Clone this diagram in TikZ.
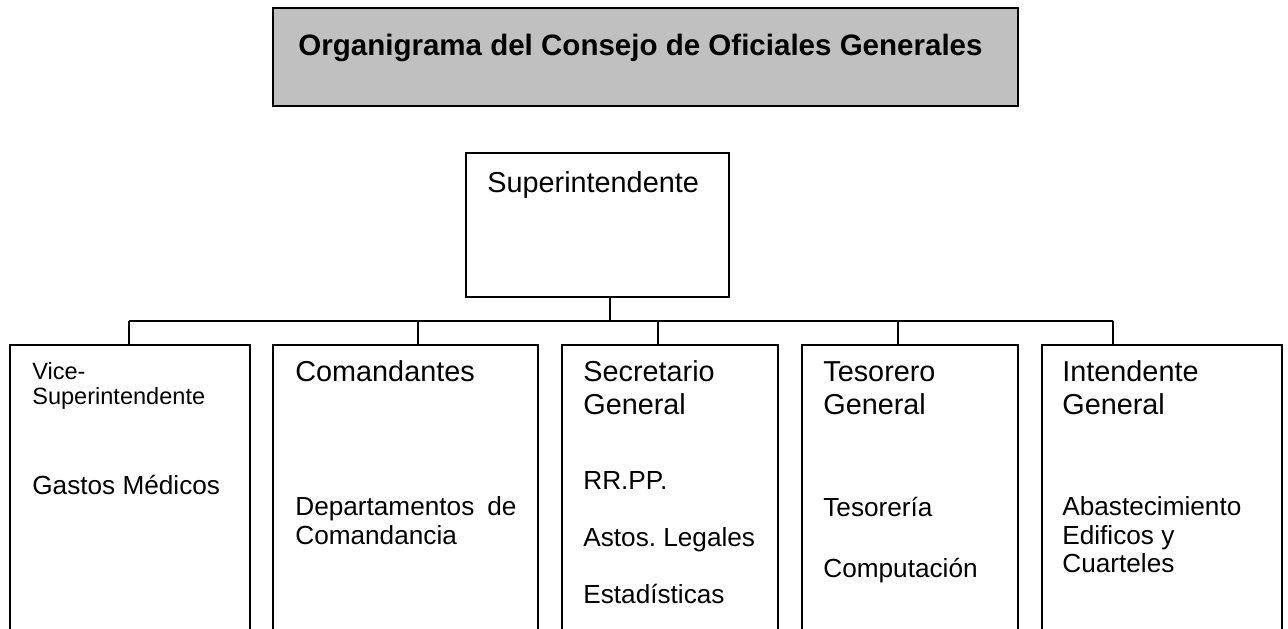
\documentclass[tikz,border=0pt]{standalone}
\usepackage{fontspec}
\setmainfont{Liberation Sans}
\usepackage{xcolor}
\usetikzlibrary{positioning, calc}
\definecolor{titlegray}{RGB}{192,192,192}
\frenchspacing

\begin{document}
\begin{tikzpicture}[
    box/.style={draw, line width=0.9pt, outer sep=0pt, inner sep=0pt, anchor=north west},
    head/.style={anchor=base west, inner sep=0pt, font=\fontsize{16.4}{19}\selectfont},
    sub/.style={anchor=base west, inner sep=0pt, font=\fontsize{14.9}{17}\selectfont},
    small/.style={anchor=base west, inner sep=0pt, font=\fontsize{13.4}{15}\selectfont}]
      \useasboundingbox (0,0) rectangle (25.76,12.56);
      \clip (0,0) rectangle (25.76,12.56);
      % title
      \node[box, fill=titlegray, line width=1.1pt, minimum width=14.9cm, minimum height=1.96cm] (title) at (5.46,12.40) {};
      \node[head, font=\fontsize{16.8}{19}\selectfont\bfseries] (titletxt) at (5.96,11.45) {Organigrama del Consejo de Oficiales Generales};
      % top box
      \node[box, minimum width=5.26cm, minimum height=2.88cm] (sup) at (9.32,9.50) {};
      \node[head] (suptxt) at (9.74,8.70) {Superintendente};
      % lower boxes
      \node[box, minimum width=4.80cm, minimum height=7cm] (vice) at (0.20,5.66) {};
      \node[box, minimum width=5.30cm, minimum height=7cm] (cmdt) at (5.46,5.66) {};
      \node[box, minimum width=4.32cm, minimum height=7cm] (secr) at (11.24,5.66) {};
      \node[box, minimum width=4.32cm, minimum height=7cm] (teso) at (16.04,5.66) {};
      \node[box, minimum width=4.80cm, minimum height=7cm] (inte) at (20.84,5.66) {};
      % connectors
      \coordinate (stem) at (12.2,6.14);
      \coordinate (d1) at (2.58,6.14);
      \coordinate (d2) at (8.36,6.14);
      \coordinate (d3) at (13.16,6.14);
      \coordinate (d4) at (17.96,6.14);
      \coordinate (d5) at (22.26,6.14);
      \draw[line width=0.9pt] (stem |- sup.south) -- (stem);
      \draw[line width=0.9pt] (d1) -- (d5);
      \draw[line width=0.9pt] (d1) -- (d1 |- vice.north);
      \draw[line width=0.9pt] (d2) -- (d2 |- cmdt.north);
      \draw[line width=0.9pt] (d3) -- (d3 |- secr.north);
      \draw[line width=0.9pt] (d4) -- (d4 |- teso.north);
      \draw[line width=0.9pt] (d5) -- (d5 |- inte.north);
      % texts
      \node[small] (v1) at (0.64,4.96) {Vice-};
      \node[small] (v2) at (0.64,4.46) {Superintendente};
      \node[sub] (v3) at (0.64,2.66) {Gastos Médicos};
      \node[head] (c1) at (5.90,4.92) {Comandantes};
      \node[sub] (c2) at (5.90,2.24) {Departamentos\hskip0.5em de};
      \node[sub] (c3) at (5.90,1.66) {Comandancia};
      \node[head] (s1) at (11.66,4.92) {Secretario};
      \node[head] (s2) at (11.66,4.26) {General};
      \node[sub] (s3) at (11.66,2.76) {RR.PP.};
      \node[sub] (s4) at (11.66,1.62) {Astos. Legales};
      \node[sub] (s5) at (11.66,0.50) {Estadísticas};
      \node[head] (t1) at (16.46,4.92) {Tesorero};
      \node[head] (t2) at (16.46,4.26) {General};
      \node[sub] (t3) at (16.46,2.22) {Tesorería};
      \node[sub] (t4) at (16.46,1.02) {Computación};
      \node[head] (i1) at (21.24,4.92) {Intendente};
      \node[head] (i2) at (21.24,4.26) {General};
      \node[sub] (i3) at (21.24,2.24) {Abastecimiento};
      \node[sub] (i4) at (21.24,1.66) {Edificos y};
      \node[sub] (i5) at (21.24,1.10) {Cuarteles};
    \end{tikzpicture}
\end{document}
